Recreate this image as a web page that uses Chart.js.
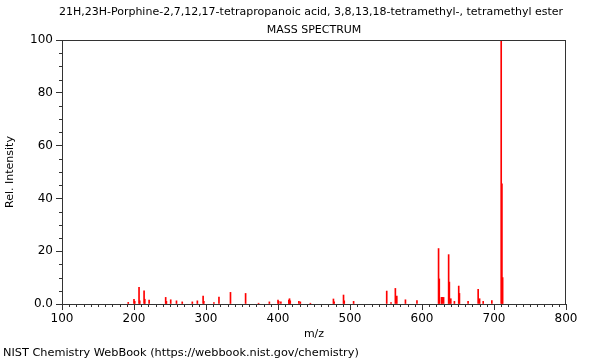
<!DOCTYPE html>
<html>
<head>
<meta charset="utf-8">
<script src="https://cdn.jsdelivr.net/npm/chart.js@4"></script>
<style>
html, body { margin: 0; padding: 0; background: #fff; }
</style>
</head>
<body>
<canvas id="ms" width="600" height="360"></canvas>
<script>
const TITLE = "21H,23H-Porphine-2,7,12,17-tetrapropanoic acid, 3,8,13,18-tetramethyl-, tetramethyl ester";
const SUBTITLE = "MASS SPECTRUM";
const FOOTER = "NIST Chemistry WebBook (https://webbook.nist.gov/chemistry)";

// m/z of each peak
const mz = [192, 200, 201, 207, 208, 214, 215, 221, 244, 245, 251, 259, 267, 281, 288,
  296, 297, 311, 318, 334, 355, 373, 388, 400, 401, 404, 415, 416, 417, 429, 431, 445,
  477, 478, 491, 492, 505, 551, 557, 563, 565, 577, 593,
  623, 624, 627, 628, 630, 637, 638, 640, 645, 651, 652, 664, 678, 680, 685, 697,
  710, 711, 712];

// relative intensity (%)
const intensity = [0.6, 1.8, 1.0, 6.3, 1.2, 5.0, 1.8, 1.5, 2.5, 1.0, 1.6, 1.2, 0.8, 0.8, 1.2,
  3.0, 1.0, 0.5, 2.6, 4.4, 4.0, 0.3, 0.8, 1.5, 1.0, 0.8, 1.5, 2.0, 1.2, 1.0, 0.8, 0.3,
  1.9, 0.8, 3.4, 1.2, 1.0, 4.9, 0.5, 5.9, 3.0, 1.6, 1.3,
  21.0, 9.5, 2.5, 2.5, 2.5, 18.7, 8.3, 2.0, 1.0, 6.8, 4.0, 1.0, 5.6, 2.0, 1.0, 1.3,
  100, 45.5, 10];

const xTicks = [100, 200, 300, 400, 500, 600, 700, 800];
const yTicks = [0, 20, 40, 60, 80, 100];

const FONT = "'DejaVu Sans', sans-serif";

// frame, minor ticks and the text outside the axes
const extras = {
  id: "extras",
  afterDraw(chart) {
    const ctx = chart.ctx;
    const a = chart.chartArea;
    const xs = chart.scales.x, ys = chart.scales.y;
    ctx.save();
    ctx.strokeStyle = "#333";
    ctx.lineWidth = 1;
    ctx.strokeRect(a.left + 0.5, a.top + 0.5, a.right - a.left - 1, a.bottom - a.top);

    ctx.beginPath();
    for (let v = 100; v <= 800; v += 10) {
      if (v % 100 === 0) continue;
      const px = Math.round(xs.getPixelForValue(v)) + 0.5;
      ctx.moveTo(px, a.bottom);
      ctx.lineTo(px, a.bottom + 3);
    }
    for (let v = 0; v <= 100; v += 5) {
      if (v % 20 === 0) continue;
      const py = Math.round(ys.getPixelForValue(v)) + 0.5;
      ctx.moveTo(a.left, py);
      ctx.lineTo(a.left - 3, py);
    }
    ctx.stroke();

    ctx.fillStyle = "#000";
    ctx.font = "11px " + FONT;
    ctx.textAlign = "center";
    ctx.textBaseline = "middle";
    const cx = (a.left + a.right) / 2;
    ctx.fillText(TITLE, cx - 3, 12);
    ctx.fillText(SUBTITLE, cx, 30);
    ctx.textAlign = "left";
    ctx.font = "11.3px " + FONT;
    ctx.fillText(FOOTER, 3, 353);
    ctx.restore();
  }
};

new Chart(document.getElementById("ms"), {
  type: "bar",
  data: {
    datasets: [{
      data: mz.map((m, i) => ({ x: m, y: intensity[i] })),
      backgroundColor: "#ff0000",
      borderWidth: 0,
      barThickness: 1
    }]
  },
  options: {
    responsive: false,
    animation: false,
    events: [],
    layout: { padding: { top: 40, right: 34, left: 0, bottom: 0 } },
    plugins: { legend: { display: false }, tooltip: { enabled: false } },
    scales: {
      x: {
        type: "linear",
        min: 100,
        max: 800,
        offset: false,
        afterBuildTicks: s => { s.ticks = xTicks.map(v => ({ value: v })); },
        afterFit: s => { s.height = 56; },
        grid: { drawOnChartArea: false, offset: false, tickLength: 6, color: "#333" },
        border: { color: "#333" },
        ticks: { color: "#000", font: { family: FONT, size: 12 }, padding: 2, maxRotation: 0, autoSkip: false },
        title: { display: true, text: "m/z", color: "#000", font: { family: FONT, size: 11 }, padding: { bottom: 19 } }
      },
      y: {
        min: 0,
        max: 100,
        afterBuildTicks: s => { s.ticks = yTicks.map(v => ({ value: v })); },
        afterFit: s => { s.width = 62; },
        grid: { drawOnChartArea: false, tickLength: 6, color: "#333" },
        border: { color: "#333" },
        ticks: {
          color: "#000", font: { family: FONT, size: 12 }, padding: 3, autoSkip: false,
          callback: v => v === 0 ? "0.0" : String(v)
        },
        title: { display: true, text: "Rel. Intensity", color: "#000", font: { family: FONT, size: 11 }, padding: { top: 4 } }
      }
    }
  },
  plugins: [extras]
});
</script>
</body>
</html>
